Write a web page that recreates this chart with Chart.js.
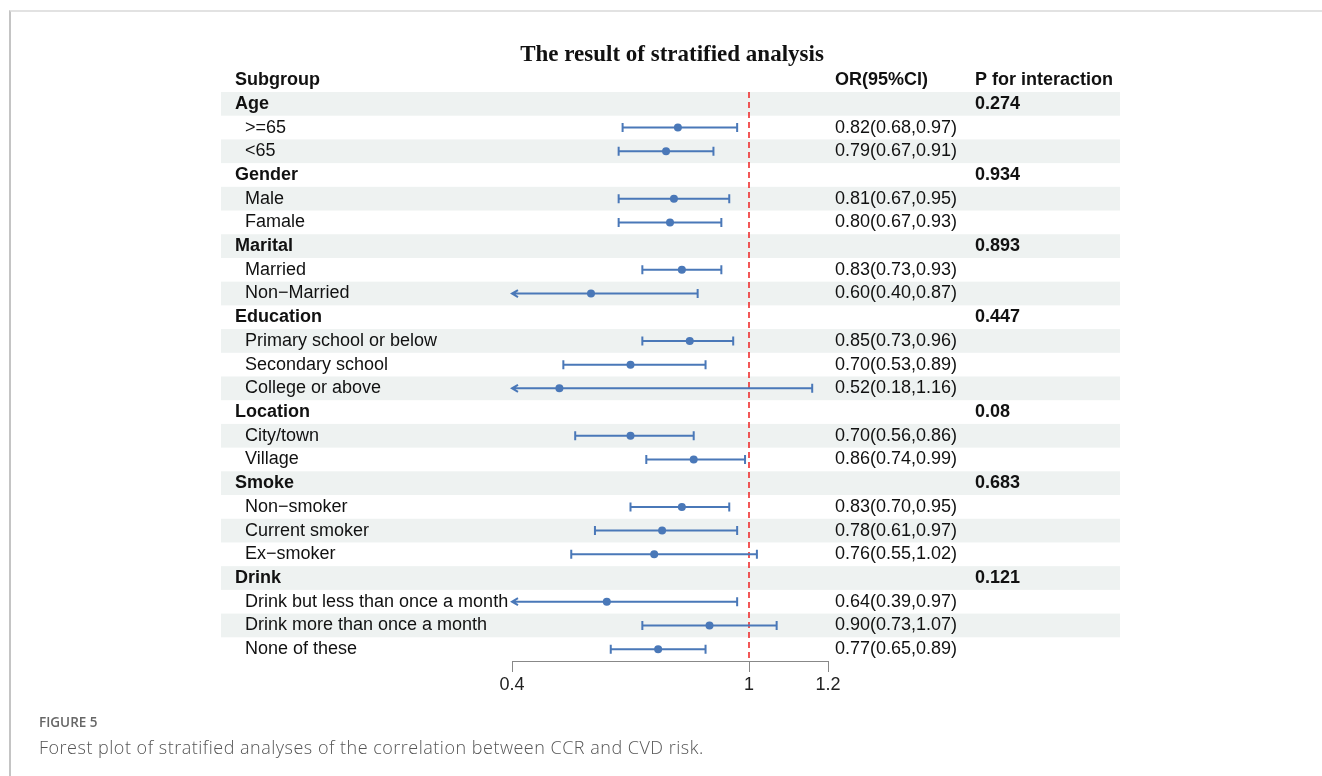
<!DOCTYPE html>
<html>
<head>
<meta charset="utf-8">
<script src="https://cdn.jsdelivr.net/npm/chart.js@4.4.1/dist/chart.umd.min.js"></script>
<style>
  html, body { margin: 0; padding: 0; background: #fff; }
  #frame { position: absolute; left: 9px; top: 10px; width: 1313px; height: 766px;
           border-top: 2px solid #e2e2e2; border-left: 2px solid #c4c4c4; box-sizing: border-box; }
  #plot { position: absolute; left: 0; top: 0; }
  #fig { position: absolute; left: 39px; top: 714px; font-family: "Open Sans", sans-serif;
         font-size: 13.5px; line-height: 16px; font-weight: 600; color: #666; }
  #cap { position: absolute; left: 39px; top: 737px; font-family: "Open Sans", sans-serif;
         font-size: 18px; line-height: 20px; color: #555; font-weight: 300; letter-spacing: 0.5px; }
</style>
</head>
<body>
<div id="frame"></div>
<canvas id="plot" width="1322" height="776"></canvas>
<div id="fig">FIGURE 5</div>
<div id="cap">Forest plot of stratified analyses of the correlation between CCR and CVD risk.</div>
<script>
// rows of the table, top to bottom
const rowLabels = ["Age", ">=65", "<65",
  "Gender", "Male", "Famale",
  "Marital", "Married", "Non\u2212Married",
  "Education", "Primary school or below", "Secondary school", "College or above",
  "Location", "City/town", "Village",
  "Smoke", "Non\u2212smoker", "Current smoker", "Ex\u2212smoker",
  "Drink", "Drink but less than once a month", "Drink more than once a month", "None of these"];
const isGroup = [1,0,0, 1,0,0, 1,0,0, 1,0,0,0, 1,0,0, 1,0,0,0, 1,0,0,0];
const orValue = [null,0.82,0.79, null,0.81,0.80, null,0.83,0.60, null,0.85,0.70,0.52,
  null,0.70,0.86, null,0.83,0.78,0.76, null,0.64,0.90,0.77];
const ciLower = [null,0.68,0.67, null,0.67,0.67, null,0.73,0.40, null,0.73,0.53,0.18,
  null,0.56,0.74, null,0.70,0.61,0.55, null,0.39,0.73,0.65];
const ciUpper = [null,0.97,0.91, null,0.95,0.93, null,0.93,0.87, null,0.96,0.89,1.16,
  null,0.86,0.99, null,0.95,0.97,1.02, null,0.97,1.07,0.89];
const pInteraction = ["0.274","","", "0.934","","", "0.893","","", "0.447","","","",
  "0.08","","", "0.683","","","", "0.121","","",""];
const xTicks = [0.4, 1, 1.2];
const xMin = 0.4, xMax = 1.2;

const blue = "#4a78b8";
const sans = '"Liberation Sans", Arial, sans-serif';

const fmt = v => v.toFixed(2);

const points = [];
orValue.forEach((v, i) => { if (v !== null) points.push({ x: v, y: i }); });

const forestPlugin = {
  id: "forest",
  beforeDatasetsDraw(chart) {
    const ctx = chart.ctx;
    const xs = chart.scales.x, ys = chart.scales.y;
    ctx.save();
    // shaded bands on every other row
    ctx.fillStyle = "#eef2f1";
    rowLabels.forEach((lab, i) => {
      if (i % 2 === 0) {
        const t = ys.getPixelForValue(i - 0.5), b = ys.getPixelForValue(i + 0.5);
        ctx.fillRect(221, t, 1120 - 221, b - t);
      }
    });
    // reference line at 1
    const x1 = xs.getPixelForValue(1);
    ctx.strokeStyle = "#ee2222";
    ctx.lineWidth = 1.5;
    ctx.setLineDash([6, 4]);
    ctx.beginPath();
    ctx.moveTo(x1, chart.chartArea.top);
    ctx.lineTo(x1, chart.chartArea.bottom);
    ctx.stroke();
    ctx.setLineDash([]);
    // confidence intervals
    ctx.strokeStyle = blue;
    ctx.lineWidth = 2;
    orValue.forEach((v, i) => {
      if (v === null) return;
      const y = ys.getPixelForValue(i);
      const lo = Math.max(ciLower[i], xMin), hi = Math.min(ciUpper[i], xMax);
      const xl = xs.getPixelForValue(lo), xh = xs.getPixelForValue(hi);
      ctx.beginPath();
      ctx.moveTo(xl, y); ctx.lineTo(xh, y);
      // left end: arrow when clipped, cap otherwise
      if (ciLower[i] <= xMin) {
        ctx.moveTo(xl + 6, y - 3.5); ctx.lineTo(xl, y); ctx.lineTo(xl + 6, y + 3.5);
      } else {
        ctx.moveTo(xl, y - 4.5); ctx.lineTo(xl, y + 4.5);
      }
      if (ciUpper[i] >= xMax) {
        ctx.moveTo(xh - 6, y - 3.5); ctx.lineTo(xh, y); ctx.lineTo(xh - 6, y + 3.5);
      } else {
        ctx.moveTo(xh, y - 4.5); ctx.lineTo(xh, y + 4.5);
      }
      ctx.stroke();
    });
    ctx.restore();
  },
  afterDraw(chart) {
    const ctx = chart.ctx;
    const ys = chart.scales.y;
    ctx.save();
    ctx.fillStyle = "#111";
    ctx.textBaseline = "middle";
    ctx.textAlign = "center";
    ctx.font = 'bold 23px "Liberation Serif", "Times New Roman", serif';
    ctx.fillText("The result of stratified analysis", 672, 55);
    ctx.textAlign = "left";
    const hy = ys.getPixelForValue(-1);
    ctx.font = "bold 18px " + sans;
    ctx.fillText("Subgroup", 235, hy);
    ctx.fillText("OR(95%CI)", 835, hy);
    ctx.fillText("P for interaction", 975, hy);
    rowLabels.forEach((lab, i) => {
      const y = ys.getPixelForValue(i);
      if (isGroup[i]) {
        ctx.font = "bold 18px " + sans;
        ctx.fillText(lab, 235, y);
        ctx.fillText(pInteraction[i], 975, y);
      } else {
        ctx.font = "18px " + sans;
        ctx.fillText(lab, 245, y);
        ctx.fillText(fmt(orValue[i]) + "(" + fmt(ciLower[i]) + "," + fmt(ciUpper[i]) + ")", 835, y);
      }
    });
    ctx.restore();
  }
};

new Chart(document.getElementById("plot").getContext("2d"), {
  type: "scatter",
  data: {
    datasets: [{
      data: points,
      backgroundColor: blue,
      borderWidth: 0,
      pointRadius: 4,
      clip: false
    }]
  },
  options: {
    responsive: false,
    animation: false,
    layout: { padding: { left: 512, right: 494, top: 92, bottom: 75 } },
    plugins: { legend: { display: false }, tooltip: { enabled: false } },
    scales: {
      x: {
        type: "linear",
        min: xMin,
        max: xMax,
        afterBuildTicks: scale => { scale.ticks = xTicks.map(v => ({ value: v })); },
        afterFit: scale => { scale.height = 40; },
        grid: { display: true, drawOnChartArea: false, drawTicks: true, tickLength: 11, color: "#888" },
        border: { display: true, color: "#888", width: 1 },
        ticks: { color: "#222", font: { family: sans, size: 18 }, padding: 2, maxRotation: 0,
                 callback: v => String(v) }
      },
      y: {
        type: "linear",
        reverse: true,
        min: -0.5,
        max: 23.5,
        display: false
      }
    }
  },
  plugins: [forestPlugin]
});
</script>
</body>
</html>
